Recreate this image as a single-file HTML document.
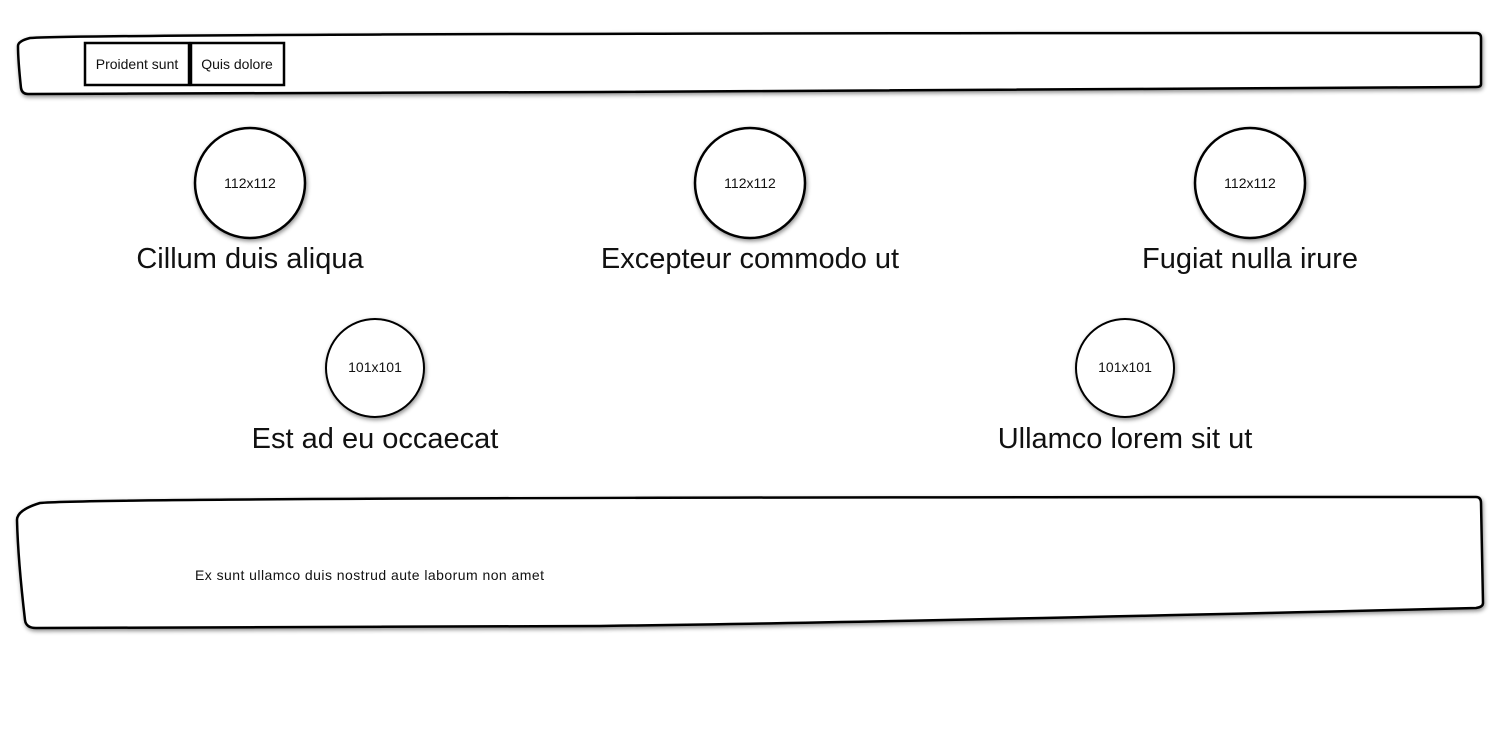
<!DOCTYPE html>
<html><head><meta charset="utf-8"><style>
html,body{margin:0;padding:0;background:#fff;width:1500px;height:752px;overflow:hidden}
svg text{font-family:"Comic Sans MS","Liberation Sans",sans-serif;fill:#111}
</style></head><body>
<svg width="1500" height="752" viewBox="0 0 1500 752" xmlns="http://www.w3.org/2000/svg">
<defs><filter id="sh" x="-10%" y="-10%" width="120%" height="130%"><feDropShadow dx="1" dy="2" stdDev="1.5" flood-opacity="0.45"/></filter></defs>
<g fill="#fff" stroke="#000" stroke-width="2.5" filter="url(#sh)">
<path d="M30,38 Q130,33 1476,33 Q1481,33 1481,38 L1481,84 Q1481,87 1476,87 Q900,90 600,92 L28,94 Q22,94 21,88 Q18,60 18,46 Q18,41 30,38 Z"/>
<path d="M40,503 Q100,497 1476,497 Q1481,497 1481,503 L1483,603 Q1483,607 1476,608 Q900,622 600,626 L36,628 Q26,628 25,620 Q18,560 17,520 Q17,510 40,503 Z"/>
<rect x="85" y="43" width="104" height="42"/>
<rect x="191" y="43" width="93" height="42"/>
<circle cx="250" cy="183" r="55"/>
<circle cx="750" cy="183" r="55"/>
<circle cx="1250" cy="183" r="55"/>
<circle cx="375" cy="368" r="49" filter="none" stroke-width="2"/>
<circle cx="1125" cy="368" r="49" filter="none" stroke-width="2"/>
</g>
<g font-size="14" text-anchor="middle">
<text x="137" y="69">Proident sunt</text>
<text x="237" y="69">Quis dolore</text>
<text x="250" y="188">112x112</text>
<text x="750" y="188">112x112</text>
<text x="1250" y="188">112x112</text>
<text x="375" y="372">101x101</text>
<text x="1125" y="372">101x101</text>
</g>
<g font-size="29" text-anchor="middle" style="fill:#222">
<text x="250" y="268">Cillum duis aliqua</text>
<text x="750" y="268">Excepteur commodo ut</text>
<text x="1250" y="268">Fugiat nulla irure</text>
<text x="375" y="448">Est ad eu occaecat</text>
<text x="1125" y="448">Ullamco lorem sit ut</text>
</g>
<text x="195" y="580" font-size="14" textLength="349" lengthAdjust="spacing">Ex sunt ullamco duis nostrud aute laborum non amet</text>
</svg>
</body></html>
